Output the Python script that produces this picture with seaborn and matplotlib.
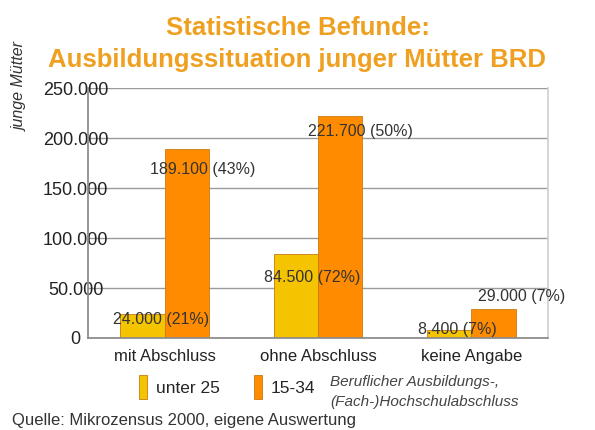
import pandas as pd
import numpy as np
import seaborn as sns
import matplotlib.pyplot as plt

# Data
categories = ["mit Abschluss", "ohne Abschluss", "keine Angabe"]
groups = ["unter 25", "15-34"]
values_u25 = [24000, 84500, 8400]
values_1534 = [189100, 221700, 29000]
pct_u25 = ["21%", "72%", "7%"]
pct_1534 = ["43%", "50%", "7%"]

df = pd.DataFrame({
    "Kategorie": categories * 2,
    "Gruppe": [groups[0]] * 3 + [groups[1]] * 3,
    "Wert": values_u25 + values_1534,
})

sns.set_theme(style="white")
plt.rcParams['font.family'] = ['Liberation Sans', 'DejaVu Sans']

fig = plt.figure(figsize=(5.95, 4.3), dpi=100)
ax = fig.add_axes([0.148, 0.214, 0.773, 0.581])

palette = {"unter 25": "#F5C400", "15-34": "#FF8C00"}
sns.barplot(data=df, x="Kategorie", y="Wert", hue="Gruppe", hue_order=groups,
            palette=palette, width=0.58, gap=0, saturation=1,
            edgecolor="#C87A10", linewidth=0.6, ax=ax)

ax.set_ylim(0, 250000)
ax.set_xlim(-0.5, 2.5)
ax.set_yticks(np.arange(0, 250001, 50000))
ax.set_yticklabels(["0", "50.000", "100.000", "150.000", "200.000", "250.000"])
ax.yaxis.grid(True, color="#9a9a9a", linewidth=1)
ax.set_axisbelow(True)
for s in ["left", "bottom"]:
    ax.spines[s].set_color("#8a8a8a")
ax.spines["right"].set_color("#d0d0d0")
ax.spines["top"].set_visible(False)
ax.tick_params(axis="y", length=0, pad=9, labelsize=13, labelcolor="#222222")
for t in ax.get_yticklabels():
    t.set_horizontalalignment("center")
ax.tick_params(axis="x", length=0, pad=8, labelsize=12, labelcolor="#222222")
ax.set_xlabel("")
ax.set_ylabel("")

# value labels (offsets in data units for placement)
bw = 0.29
dx_u25 = [-0.19, -0.21, -0.2]
dy_u25 = [-6000, -23500, 0]
dx_1534 = [-0.24, -0.21, -0.1]
dy_1534 = [-21000, -15000, 13000]
for i in range(3):
    xc = i - bw / 2
    ax.text(xc + dx_u25[i], values_u25[i] + dy_u25[i],
            f"{values_u25[i]:,}".replace(",", ".") + f" ({pct_u25[i]})",
            ha="left", va="center", fontsize=11.5, color="#333333")
    xc = i + bw / 2
    ax.text(xc + dx_1534[i], values_1534[i] + dy_1534[i],
            f"{values_1534[i]:,}".replace(",", ".") + f" ({pct_1534[i]})",
            ha="left", va="center", fontsize=11.5, color="#333333")

sns.move_legend(ax, "center", bbox_to_anchor=(0.382, 0.1),
                bbox_transform=fig.transFigure, ncol=2, frameon=False,
                title=None, handlelength=0.45, handleheight=1.8,
                handletextpad=0.5, columnspacing=2.0, fontsize=12.5)

fig.text(0.5, 0.935, "Statistische Befunde:", ha="center", va="center",
         fontsize=18.5, fontweight="bold", color="#EFA020")
fig.text(0.5, 0.86, "Ausbildungssituation junger Mütter BRD", ha="center",
         va="center", fontsize=18.5, fontweight="bold", color="#EFA020")
fig.text(0.034, 0.798, "junge Mütter", rotation=90, ha="center", va="center",
         fontsize=11.5, style="italic", color="#333333")
fig.text(0.555, 0.088, "Beruflicher Ausbildungs-,\n(Fach-)Hochschulabschluss",
         ha="left", va="center", fontsize=11, style="italic", color="#444444",
         linespacing=1.5)
fig.text(0.02, 0.023, "Quelle: Mikrozensus 2000, eigene Auswertung",
         ha="left", va="center", fontsize=12, color="#333333")

fig.savefig("out.png", dpi=100)
